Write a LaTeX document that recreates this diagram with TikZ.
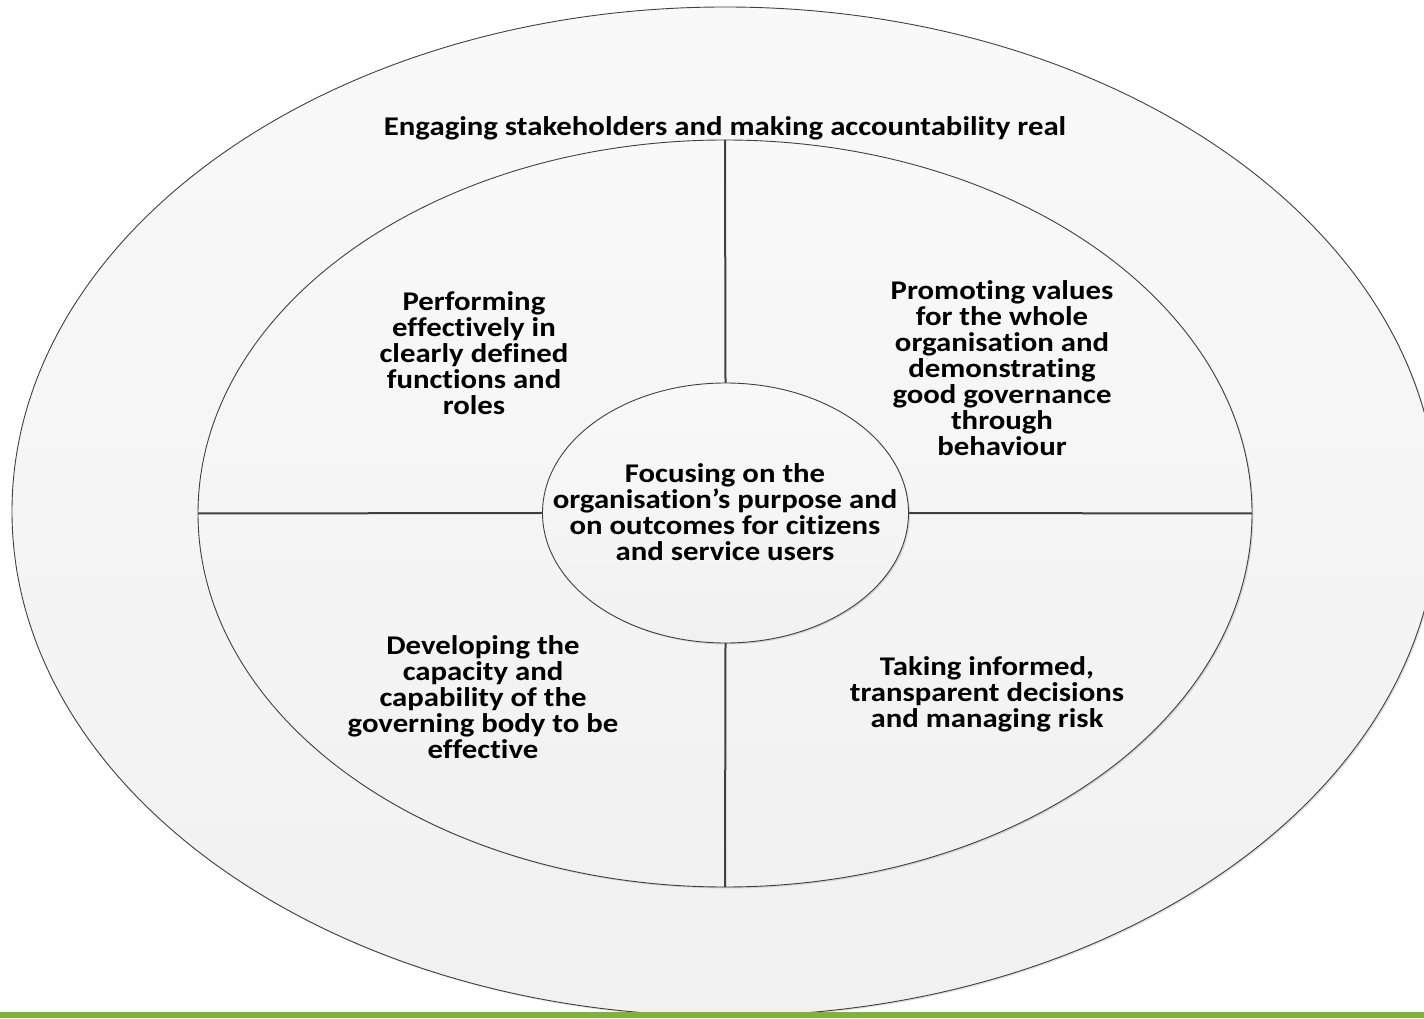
\documentclass[tikz,border=0pt]{standalone}
\usepackage{fontspec}
\setmainfont[FakeStretch=1.14, Ligatures=NoCommon]{Carlito}
\usepackage{tikz}
\usetikzlibrary{positioning,shapes.geometric,shadows}
\definecolor{ringline}{RGB}{64,64,64}
\definecolor{ringtop}{RGB}{249,249,249}
\definecolor{ringbot}{RGB}{241,241,241}
\definecolor{barcol}{RGB}{122,181,55}

\begin{document}
\begin{tikzpicture}[x=1pt, y=1pt,
  ring/.style={ellipse, draw=ringline, line width=0.9pt, top color=ringtop,
               bottom color=ringbot, inner sep=0pt, outer sep=0pt,
               drop shadow={shadow xshift=1.5pt, shadow yshift=-1.5pt,
                            opacity=0.12, fill=black}},
  lbl/.style={align=center, font=\bfseries\fontsize{27}{26}\selectfont,
              inner sep=0pt},
  divider/.style={draw=ringline, line width=2pt},
]
\useasboundingbox (0,0) rectangle (1424,1018);

\node[ring, minimum width=1426pt, minimum height=1009pt] (outer) at (725,506.5) {};
\node[ring, minimum width=1054pt, minimum height=747pt]  (mid)   at (725,504.5) {};
\node[ring, minimum width=366pt,  minimum height=260pt]  (core)  at (725.5,505) {};

\draw[divider] (mid.west)   -- (core.west);
\draw[divider] (core.east)  -- (mid.east);
\draw[divider] (mid.north)  -- (core.north);
\draw[divider] (core.south) -- (mid.south);

\node[lbl] (engage) at (725,890) {Engaging stakeholders and making accountability real};
\node[lbl] (purpose) at (725,506) {Focusing on the\\organisation’s purpose and\\on outcomes for citizens\\and service users};
\node[lbl] (perform) at (474,665) {Performing\\effectively in\\clearly defined\\functions and\\roles};
\node[lbl] (values) at (1002,650) {Promoting values\\for the whole\\organisation and\\demonstrating\\good governance\\through\\behaviour};
\node[lbl] (develop) at (483,321) {Developing the\\capacity and\\capability of the\\governing body to be\\effective};
\node[lbl] (decide) at (987,324) {Taking informed,\\transparent decisions\\and managing risk};

% strip along the foot
\fill[barcol] (0,0) rectangle (1424,6);
\end{tikzpicture}
\end{document}
